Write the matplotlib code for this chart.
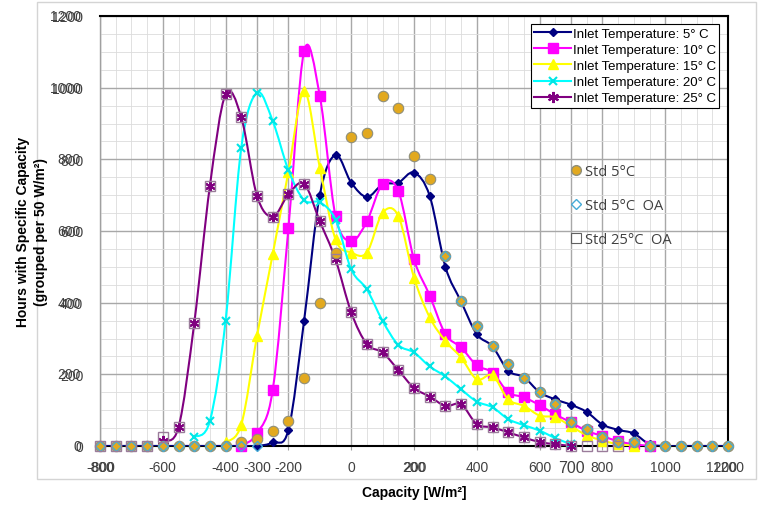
import numpy as np
import matplotlib
matplotlib.use("Agg")
import matplotlib.pyplot as plt
from matplotlib.path import Path
from matplotlib.patches import PathPatch, Rectangle
from matplotlib.lines import Line2D

# capacity bins, W/m2
cap = list(range(-800, 1201, 50))

# Inlet temperature series
t5_x = cap
t5_y = [0] * 11 + [10, 45, 350, 700, 812, 735, 695, 730, 735, 763, 698, 500, 403, 312, 278,
                   210, 192, 150, 130, 115, 95, 60, 45, 35, 5] + [0] * 5
t10_x = list(range(-350, 951, 50))
t10_y = [0, 35, 156, 607, 1102, 977, 642, 572, 627, 732, 712, 521, 420, 312, 275, 225, 205,
         150, 136, 114, 88, 66, 42, 28, 13, 5, 0]
t15_x = list(range(-400, 901, 50))
t15_y = [10, 60, 307, 535, 765, 991, 777, 577, 540, 540, 651, 642, 470, 359, 293, 247, 186,
         197, 130, 112, 85, 80, 55, 30, 15, 5, 0]
t20_x = list(range(-500, 701, 50))
t20_y = [25, 70, 350, 833, 986, 907, 770, 686, 680, 632, 493, 437, 349, 282, 261, 222, 194,
         158, 124, 108, 75, 58, 43, 22, 5]
t25_x = list(range(-600, 701, 50))
t25_y = [15, 52, 342, 726, 982, 917, 698, 640, 702, 732, 627, 521, 373, 284, 261, 212, 162,
         138, 112, 116, 61, 52, 38, 24, 11, 5, 0]

# standard points
std5_y = [0] * 9 + [10, 20, 42, 70, 190, 400, 540, 862, 873, 976, 942, 809, 744, 529, 405,
                    336, 280, 228, 191, 150, 116, 66, 47, 24, 12, 10] + [0] * 6
nan = np.nan
std5oa_y = [0] * 11 + [nan] * 11 + [529, 405, 336, 280, 228, 191, 150, 116, 66, 47, 24, 12,
                                    10] + [0] * 6
std25oa_y = [0, 0, 0, 0, 25, 52, 342, 726, 982, 917, 698, 640, 702, 732, 627, 521, 373, 284,
             261, 212, 162, 138, 112, 116, 61, 52, 38, 24, 11, 5, 0, 0, 0, 0] + [nan] * 7

labels = ["Inlet Temperature: 5° C", "Inlet Temperature: 10° C", "Inlet Temperature: 15° C",
          "Inlet Temperature: 20° C", "Inlet Temperature: 25° C"]
std_labels = ["Std 5°C", "Std 5°C  OA", "Std 25°C  OA"]

x_ticks = [-800, -600, -400, -300, -200, 0, 200, 400, 600, 700, 800, 1000, 1200]
y_ticks = [0, 200, 400, 600, 800, 1000, 1200]


def smooth_line(ax, xs, ys, color, lw=1.5, z=2):
    # excel-like smoothed line (catmull-rom as bezier)
    pts = np.column_stack([xs, ys]).astype(float)
    n = len(pts)
    verts = [pts[0]]
    codes = [Path.MOVETO]
    for i in range(n - 1):
        p0 = pts[max(i - 1, 0)]
        p1 = pts[i]
        p2 = pts[i + 1]
        p3 = pts[min(i + 2, n - 1)]
        verts += [p1 + (p2 - p0) / 6, p2 - (p3 - p1) / 6, p2]
        codes += [Path.CURVE4] * 3
    ax.add_patch(PathPatch(Path(verts, codes), fill=False, edgecolor=color, lw=lw, zorder=z,
                           capstyle="round", joinstyle="round"))


plt.rcParams["font.family"] = ["Liberation Sans", "DejaVu Sans"]

fig = plt.figure(figsize=(7.58, 5.06), dpi=100)
ax = fig.add_axes([100 / 758, 59 / 506, 628 / 758, 430 / 506])

fig.add_artist(Rectangle((37 / 758, 26 / 506), 719 / 758, 477 / 506, transform=fig.transFigure,
                         fill=False, ec="#d4d4d4", lw=1))

series = [
    (t5_x, t5_y, "#000080", dict(marker="D", ms=4.5, mfc="#000080", mec="#000080")),
    (t10_x, t10_y, "#ff00ff", dict(marker="s", ms=6.5, mfc="#ff00ff", mec="#ff00ff")),
    (t15_x, t15_y, "#ffff00", dict(marker="^", ms=6.5, mfc="#ffff00", mec="#ffff00")),
    (t20_x, t20_y, "#00ffff", dict(marker="x", ms=6, mec="#00e5e5", mew=1.5)),
    (t25_x, t25_y, "#800080", dict(marker=(6, 2, 0), ms=8, mec="#800080", mew=1.5)),
]
handles = []
for i, (xs, ys, col, mk) in enumerate(series):
    smooth_line(ax, xs, ys, col, lw=1.5, z=3 + i)
    ax.plot(xs, ys, ls="none", zorder=3 + i, clip_on=False, **mk)
    handles.append(Line2D([], [], color=col, lw=1.5, **mk))

ax.plot(cap, std5_y, ls="none", marker="o", ms=7.5, mfc="#e2a91f", mec="#8f8f7a", mew=0.8,
        zorder=9, clip_on=False)
ax.plot(cap, std5oa_y, ls="none", marker="D", ms=5, mfc="none", mec="#45aad6", mew=1,
        zorder=10, clip_on=False)
ax.plot(cap, std25oa_y, ls="none", marker="s", ms=7, mfc="none", mec="#9a7c9a", mew=1,
        zorder=10, clip_on=False)

ax.set_xlim(-800, 1200)
ax.set_ylim(0, 1200)
ax.set_xticks(x_ticks)
ax.set_xticklabels([str(v) for v in x_ticks], color="#404040", fontsize=10)
ax.set_yticks(y_ticks)
ax.set_yticklabels([str(v) for v in y_ticks], color="#404040", fontsize=10)
for t in ax.get_xticklabels():
    if t.get_text() == "700":
        t.set_fontsize(11.5)
ax.set_xticks(range(-800, 1201, 50), minor=True)
ax.set_yticks(range(0, 1201, 50), minor=True)
ax.tick_params(axis="x", which="major", length=3, color="#a0a0a0", pad=7)
ax.tick_params(axis="y", which="major", length=0, pad=12)
ax.tick_params(which="minor", length=0)
ax.grid(which="minor", color="#dcdcdc", lw=0.6)
ax.grid(which="major", color="#a8a8a8", lw=1.0)
ax.set_axisbelow(True)

# overlapping second label set of the pasted chart
for v in y_ticks:
    ax.text(-0.0303, v, str(v), transform=ax.get_yaxis_transform(), ha="right", va="center",
            color="#404040", fontsize=10)
x_off = -(3 + 7) / 72 * 100 / 430
for v, dx in [(-800, 0.002), (200, 0.002), (1200, -0.011)]:
    ax.text((v + 800) / 2000 + dx, x_off, str(v), transform=ax.transAxes, ha="center",
            va="top", color="#404040", fontsize=10)

for s in ["top", "right", "bottom"]:
    ax.spines[s].set_color("black")
    ax.spines[s].set_linewidth(1.5)
ax.spines["left"].set_color("#a0a0a0")
ax.spines["left"].set_linewidth(1)

leg = ax.legend(handles, labels, loc="upper right", bbox_to_anchor=(719 / 758, 1 - 25 / 506),
                bbox_transform=fig.transFigure, fontsize=9.5, handlelength=2.8,
                handletextpad=0.1, borderpad=0.25, labelspacing=0.3, fancybox=False,
                framealpha=1, edgecolor="black", borderaxespad=0)
leg.get_frame().set_linewidth(0.8)
ax.add_artist(leg)

std_handles = [
    Line2D([], [], ls="none", marker="o", ms=7, mfc="#e2a91f", mec="#8f8f7a"),
    Line2D([], [], ls="none", marker="D", ms=5, mfc="none", mec="#45aad6", mew=1),
    Line2D([], [], ls="none", marker="s", ms=7, mfc="none", mec="#606060", mew=0.8),
]
leg2 = ax.legend(std_handles, std_labels, loc="upper left",
                 bbox_to_anchor=(570 / 758, 1 - 165 / 506), bbox_transform=fig.transFigure,
                 frameon=False, prop={"family": ["Open Sans", "DejaVu Sans"], "size": 10.5},
                 labelcolor="#404040", handlelength=0.8, handletextpad=0.2, labelspacing=1.3,
                 borderpad=0, borderaxespad=0)

fig.text(32 / 758, 1 - 232 / 506, "Hours with Specific Capacity\n(grouped per 50 W/m²)",
         rotation=90, ha="center", va="center", fontsize=10, fontweight="bold",
         multialignment="center", linespacing=1.4)
fig.text(414 / 758, 1 - 493 / 506, "Capacity [W/m²]", ha="center", va="center", fontsize=10,
         fontweight="bold")

fig.savefig("out.png", dpi=100)
